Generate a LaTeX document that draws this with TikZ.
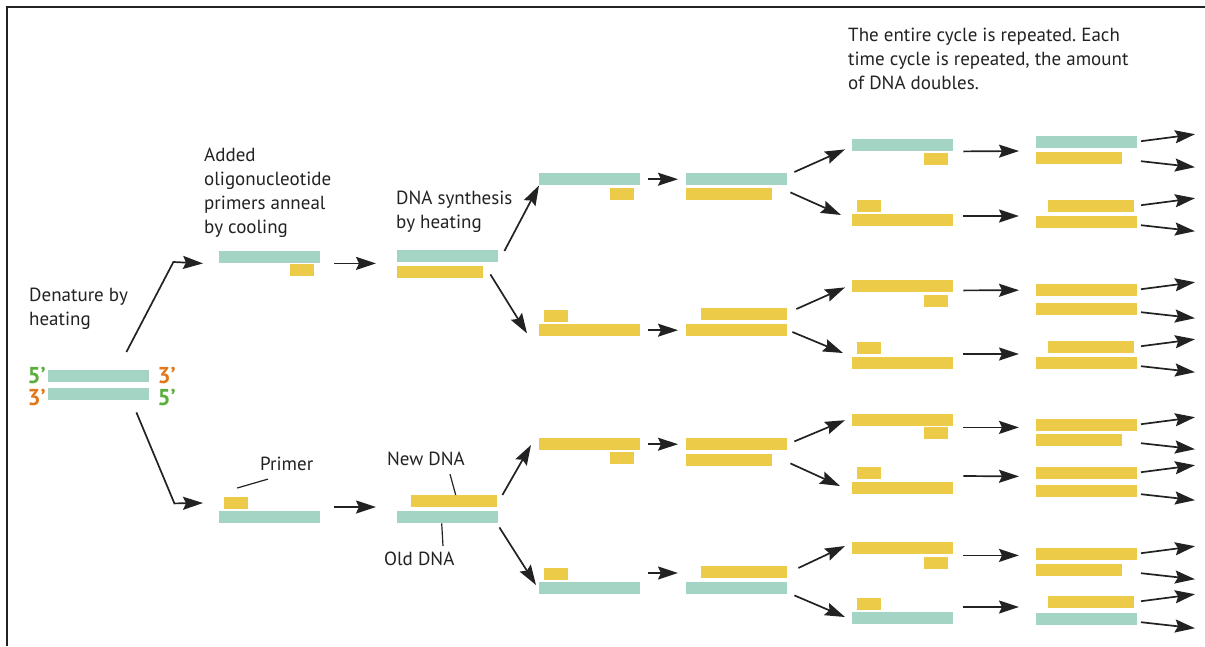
\documentclass[tikz,border=0pt]{standalone}
\usepackage{fontspec}
\setmainfont{PT Sans}
\usetikzlibrary{arrows.meta,calc}
\usepackage{xcolor}
\definecolor{oldc}{HTML}{A3D4C4}
\definecolor{newc}{HTML}{EBCB48}
\definecolor{five}{HTML}{5AAE3C}
\definecolor{three}{HTML}{E2781A}
\definecolor{ink}{HTML}{222222}
\frenchspacing

\begin{document}
\begin{tikzpicture}[x=1pt,y=-1pt]
\tikzstyle{bar} = [rectangle, inner sep=0pt, minimum height=12pt, anchor=north west]
\tikzstyle{old} = [bar, fill=oldc, minimum width=101pt]
\tikzstyle{new} = [bar, fill=newc, minimum width=101pt]
\tikzstyle{part} = [bar, fill=newc, minimum width=86pt]
\tikzstyle{primer} = [bar, fill=newc, minimum width=24pt]
\tikzstyle{note} = [align=left, inner sep=0pt, anchor=north west, text=ink,
font=\fontsize{19}{24}\selectfont]
\tikzstyle{tag} = [inner sep=0pt, text height=16pt, text depth=0pt,
font=\fontsize{23}{24}\selectfont\bfseries]
\tikzstyle{line} = [draw=ink, line width=1.7pt, -{Stealth[length=20pt,width=13pt,inset=3pt]}]
\tikzstyle{hop} = [line, shorten <=8pt, shorten >=8pt]
\tikzstyle{pointer} = [draw=ink, line width=1.2pt]

\useasboundingbox (0,0) rectangle (1205,646);
\draw[ink, line width=1.5pt] (7,646) -- (7,7) -- (1205,7);

% texts
\node[note] (denature) at (29,288) {Denature by\\heating};
\node[note] (anneal) at (204,148) {Added\\oligonucleotide\\primers anneal\\by cooling};
\node[note] (synth) at (396,191) {DNA synthesis\\by heating};
\node[note] (repeat) at (848,28) {The entire cycle is repeated. Each\\time cycle is repeated, the amount\\of DNA doubles.};
\node[note] (primer) at (260,457) {Primer};
\node[note] (newdna) at (387,452) {New DNA};
\node[note] (olddna) at (384,552) {Old DNA};

% template
\node[old] (d0t) at (48,370) {};
\node[old] (d0b) at (48,388) {};
\node[tag, text=five, anchor=east] (l5a) at ([shift={(-2,-1)}]d0t.west) {5’};
\node[tag, text=three, anchor=east] (l3a) at ([shift={(-2,3)}]d0b.west) {3’};
\node[tag, text=three, anchor=west] (l3b) at ([shift={(8,-1)}]d0t.east) {3’};
\node[tag, text=five, anchor=west] (l5b) at ([shift={(8,3)}]d0b.east) {5’};

% cycle 1
\node[old] (m1at) at (219,251) {};
\node[primer] (m1ab) at (290,264) {};
\node[primer] (m1bt) at (224,497) {};
\node[old] (m1bb) at (219,511) {};
\node[old] (m2at) at (397,250) {};
\node[part] (m2ab) at (397,266) {};
\node[part] (m2bt) at (411,495) {};
\node[old] (m2bb) at (397,511) {};

% cycle 2
\node[old] (m3at) at (539,173) {};
\node[primer] (m3ab) at (610,188) {};
\node[primer] (m3bt) at (544,310) {};
\node[new] (m3bb) at (539,324) {};
\node[new] (m3ct) at (539,438) {};
\node[primer] (m3cb) at (610,452) {};
\node[primer] (m3dt) at (544,568) {};
\node[old] (m3db) at (539,582) {};
\node[old] (m4at) at (686,173) {};
\node[part] (m4ab) at (686,188) {};
\node[part] (m4bt) at (701,308) {};
\node[new] (m4bb) at (686,324) {};
\node[new] (m4ct) at (686,438) {};
\node[part] (m4cb) at (686,454) {};
\node[part] (m4dt) at (701,566) {};
\node[old] (m4db) at (686,582) {};

% cycle 3
\node[old] (m5at) at (852,139) {};
\node[primer] (m5ab) at (924,153) {};
\node[primer] (m5bt) at (857,200) {};
\node[new] (m5bb) at (852,214) {};
\node[new] (m5ct) at (852,280) {};
\node[primer] (m5cb) at (924,295) {};
\node[primer] (m5dt) at (857,342) {};
\node[new] (m5db) at (852,357) {};
\node[new] (m5et) at (852,414) {};
\node[primer] (m5eb) at (924,427) {};
\node[primer] (m5ft) at (857,467) {};
\node[new] (m5fb) at (852,482) {};
\node[new] (m5gt) at (852,542) {};
\node[primer] (m5gb) at (924,557) {};
\node[primer] (m5ht) at (857,598) {};
\node[old] (m5hb) at (852,612) {};
\node[old] (m6at) at (1036,136) {};
\node[part] (m6ab) at (1036,152) {};
\node[part] (m6bt) at (1048,200) {};
\node[new] (m6bb) at (1036,216) {};
\node[new] (m6ct) at (1036,284) {};
\node[new] (m6cb) at (1036,303) {};
\node[part] (m6dt) at (1048,341) {};
\node[new] (m6db) at (1036,357) {};
\node[new] (m6et) at (1036,419) {};
\node[part] (m6eb) at (1036,434) {};
\node[new] (m6ft) at (1036,467) {};
\node[new] (m6fb) at (1036,485) {};
\node[new] (m6gt) at (1036,548) {};
\node[part] (m6gb) at (1036,564) {};
\node[part] (m6ht) at (1048,596) {};
\node[old] (m6hb) at (1036,613) {};
\coordinate (rim) at (1141,0);

% pointers
\draw[pointer] ([shift={(1,-9)}]m1bt.north) -- ([shift={(8,8)}]primer.south west);
\draw[pointer] ([shift={(-15,8)}]newdna.south east) -- ([xshift=1.5pt]m2bt.north);
\draw[pointer] ([xshift=-6pt]m2bb.south) -- ([shift={(59,-6)}]olddna.north west);

% arrows
\draw[line] ([shift={(-23,-18)}]d0t.north east) -- ++(47,-90) -- ([xshift=-16pt]m1at.south west);
\draw[line] ([shift={(-13,12)}]d0b.south east) -- ++(38,91) -- ([shift={(-16,-8)}]m1bb.north west);
\draw[line] ([xshift=14pt]m1at.south east) -- ([shift={(-21,1)}]m2at.south west);
\draw[line] ([shift={(14,-4)}]m1bb.north east) -- ([shift={(-21,-4)}]m2bb.north west);

\draw[line] ([shift={(6,1)}]m2at.north east) -- (m3at.south west);
\draw[line] ([shift={(7,-4)}]m2ab.south east) -- ([shift={(-12,-3)}]m3bb.south west);
\draw[line] ([xshift=5pt]m2bt.north east) -- ([shift={(-8,7)}]m3ct.north west);
\draw[line] ([shift={(1,4)}]m2bb.south east) -- ([shift={(-3,3)}]m3db.north west);

\draw[hop] (m3at.east) -- (m4at.west);
\draw[hop] (m3bb.east) -- (m4bb.west);
\draw[hop] (m3ct.east) -- (m4ct.west);
\draw[hop] ([shift={(0,-9)}]m3db.north east) -- ([shift={(0,-9)}]m4db.north west);

\draw[line] ([shift={(7,-1)}]m4at.north east) -- ([shift={(-7,-2)}]m5at.south west);
\draw[line] ([shift={(3,7)}]m4at.south east) -- ([shift={(-11,1)}]m5bb.north west);
\draw[line] ([shift={(9,1)}]m4bt.north east) -- ([shift={(-7,-5)}]m5ct.south west);
\draw[line] ([shift={(5,8)}]m4bb.north east) -- ([shift={(-9,-4)}]m5db.north west);
\draw[line] ([shift={(7,-9)}]m4ct.south east) -- ([xshift=-7pt]m5et.west);
\draw[line] ([shift={(3,13)}]m4ct.south east) -- ([shift={(-12,4)}]m5fb.north west);
\draw[line] ([shift={(11,2)}]m4dt.north east) -- ([shift={(-7,4)}]m5gt.north west);
\draw[line] ([shift={(7,1)}]m4db.south east) -- ([shift={(-7,5)}]m5hb.north west);

\draw[line] ([xshift=10pt]m5at.south east) -- ([shift={(-17,-1)}]m6ab.north west);
\draw[line] ([shift={(10,2)}]m5bb.north east) -- ([xshift=-17pt]m6bb.north west);
\draw[line] ([shift={(10,-2)}]m5ct.south east) -- ([xshift=-17pt]m6ct.west);
\draw[line] ([shift={(10,-3)}]m5db.north east) -- ([shift={(-17,-3)}]m6db.north west);
\draw[line] ([shift={(10,1)}]m5et.south east) -- ([shift={(-17,-4)}]m6et.south west);
\draw[line] ([shift={(10,-6)}]m5fb.north east) -- ([shift={(-17,-3)}]m6ft.south west);
\draw[line] ([shift={(10,1)}]m5gt.south east) -- ([shift={(-17,-5)}]m6gt.south west);
\draw[line] ([shift={(10,-5)}]m5hb.north east) -- ([shift={(-17,-6)}]m6hb.north west);

\foreach \s in {a,...,h} {
  \draw[line] ($(m6\s t -| rim)+(0,-1)$) -- ++(54,-7);
  \draw[line] ($(m6\s b -| rim)+(0,3)$) -- ++(54,6);
}
\end{tikzpicture}
\end{document}
